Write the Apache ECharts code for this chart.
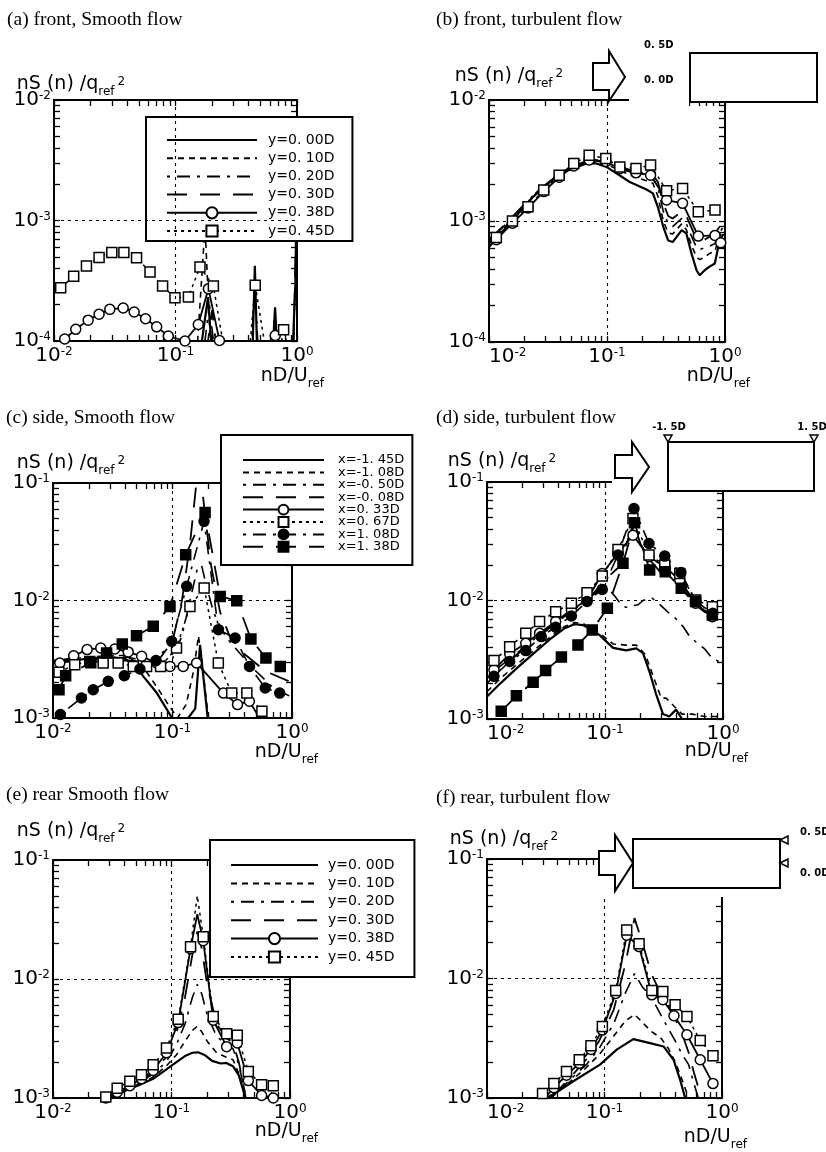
<!DOCTYPE html>
<html><head><meta charset="utf-8">
<script src="https://cdn.jsdelivr.net/npm/echarts@6/dist/echarts.min.js"></script>
<style>html,body{margin:0;padding:0;background:#fff}#c{width:826px;height:1152px}</style>
</head><body><div id="c"></div>
<script>
// ---------------- DATA ----------------
const namesY = ['y=0. 00D','y=0. 10D','y=0. 20D','y=0. 30D','y=0. 38D','y=0. 45D'];
const namesX = ['x=-1. 45D','x=-1. 08D','x=-0. 50D','x=-0. 08D','x=0. 33D','x=0. 67D','x=1. 08D','x=1. 38D'];
const titles = ['(a) front, Smooth flow','(b) front, turbulent flow','(c) side, Smooth flow','(d) side, turbulent flow','(e) rear Smooth flow','(f) rear, turbulent flow'];

// (a) front, smooth
const aF00 = [0.16,0.185,0.2,0.43,0.45,0.47,0.63,0.66,0.69,0.92,0.97,1.0];
const aS00 = [8e-5,2.3e-4,8e-5,8e-5,4.2e-4,8e-5,8e-5,1.9e-4,8e-5,8e-5,3e-4,3e-3];
const aF10 = [0.15,0.175,0.195,0.62,0.65,0.68];
const aS10 = [8e-5,9e-4,8e-5,8e-5,1.5e-4,8e-5];
const aF20 = [0.17,0.19,0.21,0.42,0.45,0.48];
const aS20 = [8e-5,2.0e-4,8e-5,8e-5,3.0e-4,8e-5];
const aF30 = [0.18,0.2,0.22,0.63,0.66,0.69,0.94,1.0];
const aS30 = [8e-5,1.8e-4,8e-5,8e-5,1.6e-4,8e-5,1e-4,2e-3];
const aF38 = [0.01225,0.0151,0.0191,0.0235,0.0288,0.0371,0.0457,0.0567,0.070,0.0873,0.1197,0.154,0.1866,0.230,0.29,0.37,0.46,0.57,0.662,0.82];
const aS38 = [1.04e-4,1.25e-4,1.49e-4,1.67e-4,1.83e-4,1.88e-4,1.74e-4,1.53e-4,1.31e-4,1.1e-4,1.0e-4,1.37e-4,2.72e-4,1.01e-4,7e-5,7e-5,7e-5,7e-5,1.11e-4,7e-5];
const aF45 = [0.01135,0.01452,0.0185,0.0235,0.0299,0.0376,0.0478,0.0617,0.0783,0.099,0.1277,0.159,0.205,0.26,0.33,0.4,0.453,0.57,0.70,0.776,0.9];
const aS45 = [2.77e-4,3.44e-4,4.2e-4,4.93e-4,5.42e-4,5.42e-4,4.9e-4,3.74e-4,2.86e-4,2.28e-4,2.32e-4,4.12e-4,2.86e-4,7e-5,7e-5,7e-5,2.9e-4,7e-5,7e-5,1.24e-4,7e-5];

// (b) front, turbulent
const bF = [0.01,0.014,0.0236,0.0398,0.067,0.08,0.099,0.156,0.216,0.245,0.27,0.3,0.33,0.36,0.43,0.47,0.52,0.575,0.61,0.67,0.74,0.82,0.9,0.97];
const bS00 = [6.1e-4,8.9e-4,1.58e-3,2.47e-3,2.99e-3,3.0e-3,2.8e-3,2.1e-3,1.82e-3,1.69e-3,1.3e-3,8.95e-4,6.9e-4,6.7e-4,8.4e-4,7.9e-4,5.4e-4,3.9e-4,3.56e-4,3.9e-4,4.2e-4,4.45e-4,6.9e-4,7.8e-4];
const bS10 = [6.5e-4,9.2e-4,1.6e-3,2.5e-3,3.05e-3,3.1e-3,2.95e-3,2.4e-3,2.15e-3,2.05e-3,1.6e-3,1.0e-3,8.0e-4,7.8e-4,9.5e-4,8.5e-4,6.3e-4,5.0e-4,4.8e-4,5.0e-4,5.4e-4,5.6e-4,7.5e-4,8.5e-4];
const bS20 = [6.8e-4,9.5e-4,1.62e-3,2.5e-3,3.1e-3,3.15e-3,3.0e-3,2.55e-3,2.3e-3,2.25e-3,1.9e-3,1.2e-3,9.5e-4,9.0e-4,1.05e-3,9.5e-4,7.5e-4,6.0e-4,5.8e-4,6.0e-4,6.2e-4,6.5e-4,8.0e-4,9.0e-4];
const bS30 = [7.0e-4,9.6e-4,1.63e-3,2.52e-3,3.1e-3,3.2e-3,3.05e-3,2.65e-3,2.45e-3,2.4e-3,2.1e-3,1.4e-3,1.1e-3,1.05e-3,1.2e-3,1.1e-3,8.8e-4,7.0e-4,6.8e-4,7.0e-4,7.4e-4,7.8e-4,9.0e-4,9.5e-4];
const bF38 = [0.01154,0.0158,0.0214,0.0291,0.0393,0.0523,0.0706,0.0977,0.1285,0.176,0.234,0.32,0.437,0.594,0.823,0.92];
const bS38 = [7.0e-4,9.6e-4,1.28e-3,1.75e-3,2.3e-3,2.85e-3,3.2e-3,3.1e-3,2.7e-3,2.5e-3,2.39e-3,1.49e-3,1.4e-3,7.5e-4,7.6e-4,6.6e-4];
const bF45 = [0.01154,0.0158,0.0214,0.0291,0.0393,0.0523,0.0706,0.0977,0.1285,0.176,0.234,0.32,0.437,0.594,0.823];
const bS45 = [7.3e-4,1.0e-3,1.31e-3,1.8e-3,2.39e-3,2.99e-3,3.5e-3,3.29e-3,2.8e-3,2.72e-3,2.9e-3,1.78e-3,1.86e-3,1.19e-3,1.23e-3];

// (c) side, smooth
const cFm145 = [0.01,0.015,0.02,0.03,0.04,0.05,0.057,0.074,0.098,0.11,0.13,0.155,0.17,0.197,0.22];
const cSm145 = [3.0e-3,3.1e-3,3.2e-3,3.3e-3,3.2e-3,2.7e-3,2.26e-3,1.63e-3,1.02e-3,9e-4,9.5e-4,1.2e-3,4.2e-3,1.0e-3,7e-4];
const cFm108 = [0.01,0.02,0.03,0.04,0.05,0.06,0.075,0.09,0.11,0.13,0.15,0.165,0.18,0.2];
const cSm108 = [3.1e-3,3.3e-3,3.4e-3,3.4e-3,3.0e-3,2.5e-3,1.8e-3,1.35e-3,1.0e-3,1.3e-3,2.5e-3,5e-3,2.5e-3,1.0e-3];
const cFm050 = [0.01,0.02,0.04,0.06,0.08,0.1,0.12,0.14,0.16,0.175,0.19,0.22,0.26,0.3,0.4,0.5,0.7,1.0];
const cSm050 = [3.0e-3,3.2e-3,3.3e-3,3.1e-3,3.0e-3,3.2e-3,5e-3,1.0e-2,1.8e-2,2.0e-2,1.4e-2,8e-3,5.5e-3,4.5e-3,3.2e-3,2.5e-3,1.8e-3,1.5e-3];
const cFm008 = [0.01,0.02,0.04,0.06,0.08,0.1,0.12,0.14,0.16,0.17,0.185,0.21,0.25,0.3,0.4,0.6,1.0];
const cSm008 = [3.0e-3,3.0e-3,3.1e-3,3.0e-3,3.3e-3,4.5e-3,1.0e-2,3e-2,1.1e-1,1.3e-1,6e-2,2.0e-2,8e-3,5e-3,3.5e-3,2.5e-3,2e-3];
const cF033 = [0.0114,0.0149,0.0193,0.0251,0.0329,0.0426,0.0552,0.0739,0.0953,0.123,0.159,0.267,0.35,0.44,0.57];
const cS033 = [2.94e-3,3.39e-3,3.82e-3,3.94e-3,3.87e-3,3.65e-3,3.35e-3,2.94e-3,2.75e-3,2.75e-3,2.94e-3,1.63e-3,1.3e-3,1.39e-3,9e-4];
const cF067 = [0.01122,0.0152,0.0203,0.0263,0.0351,0.047,0.0607,0.0795,0.108,0.14,0.184,0.2418,0.313,0.419,0.56];
const cS067 = [2.45e-3,2.84e-3,3.03e-3,2.94e-3,2.94e-3,2.75e-3,2.75e-3,2.75e-3,3.94e-3,8.9e-3,1.28e-2,2.94e-3,1.63e-3,1.63e-3,1.14e-3];
const cF108 = [0.01153,0.0173,0.0217,0.029,0.0395,0.0534,0.0727,0.0985,0.1315,0.1837,0.2425,0.334,0.441,0.597,0.789];
const cS108 = [1.07e-3,1.48e-3,1.74e-3,2.05e-3,2.29e-3,2.61e-3,3.08e-3,4.49e-3,1.32e-2,4.72e-2,5.65e-3,4.8e-3,2.75e-3,1.8e-3,1.63e-3];
const cF138 = [0.01122,0.01276,0.0207,0.0281,0.038,0.050,0.069,0.0953,0.129,0.1874,0.2505,0.345,0.453,0.605,0.798];
const cS138 = [1.74e-3,2.29e-3,2.95e-3,3.57e-3,4.27e-3,5.02e-3,6.03e-3,8.9e-3,2.45e-2,5.62e-2,1.08e-2,9.97e-3,4.7e-3,3.24e-3,2.75e-3];

// (d) side, turbulent
const dFm145 = [0.01,0.013,0.018,0.025,0.035,0.045,0.055,0.065,0.079,0.09,0.117,0.151,0.184,0.21,0.24,0.27,0.31,0.35,0.4,0.45,0.5];
const dSm145 = [1.55e-3,2.0e-3,2.7e-3,3.6e-3,4.8e-3,5.8e-3,6.3e-3,6.2e-3,5.6e-3,5.1e-3,3.98e-3,3.8e-3,3.95e-3,3.6e-3,2.45e-3,1.64e-3,1.1e-3,1.05e-3,1.2e-3,1.0e-3,8e-4];
const dFm108 = [0.01,0.013,0.018,0.025,0.035,0.045,0.055,0.065,0.079,0.09,0.117,0.151,0.184,0.22,0.26,0.3,0.33,0.38,0.45,0.55,0.7,0.9,1.0];
const dSm108 = [1.7e-3,2.2e-3,2.9e-3,3.8e-3,5.0e-3,6.0e-3,6.5e-3,6.4e-3,5.8e-3,5.3e-3,4.3e-3,4.2e-3,4.2e-3,3.5e-3,2.2e-3,1.5e-3,1.5e-3,1.3e-3,1.1e-3,1.1e-3,1.05e-3,1.05e-3,9e-4];
const dFm050 = [0.01,0.013,0.018,0.025,0.035,0.045,0.06,0.08,0.1,0.12,0.14,0.155,0.17,0.19,0.21,0.25,0.3,0.35,0.4,0.46,0.52,0.6,0.7,0.8,0.95];
const dSm050 = [2.2e-3,2.8e-3,3.6e-3,4.7e-3,6.2e-3,7.5e-3,9.2e-3,1.12e-2,1.35e-2,1.1e-2,9.0e-3,8.7e-3,9.0e-3,9.2e-3,1.0e-2,1.05e-2,9.0e-3,7.8e-3,7e-3,6e-3,5e-3,4.4e-3,3.9e-3,3.3e-3,3.0e-3];
const dFm008 = [0.01,0.013,0.018,0.025,0.035,0.045,0.06,0.08,0.1,0.13,0.16,0.175,0.2,0.24,0.3,0.4,0.5,0.6,0.7,0.85,1.0];
const dSm008 = [2.0e-3,2.6e-3,3.5e-3,4.6e-3,6.0e-3,7.3e-3,9.0e-3,1.15e-2,1.5e-2,1.9e-2,3.5e-2,4.5e-2,3.0e-2,2.2e-2,1.7e-2,1.4e-2,1.1e-2,9e-3,8e-3,7.3e-3,6.8e-3];
const dF033 = [0.01146,0.01556,0.0213,0.0279,0.0382,0.0519,0.0704,0.0948,0.1288,0.1726,0.236,0.321,0.43,0.586,0.812];
const dS033 = [2.6e-3,3.55e-3,4.36e-3,5.3e-3,6.64e-3,8.3e-3,1.01e-2,1.69e-2,2.5e-2,3.56e-2,2.34e-2,1.93e-2,1.49e-2,9.5e-3,7.3e-3];
const dF067 = [0.01146,0.01556,0.0213,0.0279,0.0382,0.0519,0.0704,0.0948,0.1288,0.1726,0.236,0.321,0.43,0.586,0.812];
const dS067 = [3.12e-3,4.08e-3,5.29e-3,6.64e-3,8.05e-3,9.46e-3,1.16e-2,1.61e-2,2.7e-2,4.91e-2,2.42e-2,1.99e-2,1.69e-2,1.01e-2,8.87e-3];
const dF108 = [0.01146,0.01556,0.0213,0.0288,0.0382,0.0519,0.0704,0.0948,0.1288,0.176,0.236,0.321,0.44,0.59,0.82];
const dS108 = [2.29e-3,3.06e-3,3.78e-3,4.96e-3,5.95e-3,7.4e-3,9.8e-3,1.24e-2,2.42e-2,5.97e-2,3.03e-2,2.37e-2,1.72e-2,9.8e-3,7.8e-3];
const dF138 = [0.0132,0.01774,0.0246,0.0314,0.0427,0.059,0.078,0.1047,0.142,0.178,0.239,0.324,0.443,0.586,0.812];
const dS138 = [1.16e-3,1.57e-3,2.04e-3,2.57e-3,3.33e-3,4.22e-3,5.65e-3,8.6e-3,2.06e-2,4.52e-2,1.81e-2,1.75e-2,1.27e-2,9.8e-3,7.55e-3];

// (e) rear, smooth
const eF00 = [0.025,0.035,0.054,0.07,0.09,0.11,0.13,0.15,0.168,0.19,0.22,0.26,0.29,0.33,0.37,0.41,0.44];
const eS00 = [9.5e-4,1.08e-3,1.29e-3,1.45e-3,1.73e-3,2.0e-3,2.25e-3,2.4e-3,2.42e-3,2.3e-3,2.05e-3,1.95e-3,1.97e-3,1.85e-3,1.55e-3,1.1e-3,8e-4];
const eF = [0.03,0.05,0.07,0.09,0.11,0.13,0.15,0.165,0.18,0.2,0.24,0.29,0.33,0.37,0.41,0.44];
const eS10 = [1.0e-3,1.25e-3,1.5e-3,1.85e-3,2.3e-3,3.0e-3,3.7e-3,4.0e-3,3.6e-3,3.0e-3,2.4e-3,2.2e-3,2.1e-3,1.6e-3,1.1e-3,8e-4];
const eS20 = [1.0e-3,1.28e-3,1.6e-3,2.0e-3,2.8e-3,4.2e-3,7e-3,9e-3,7.5e-3,5e-3,3.3e-3,2.8e-3,2.6e-3,1.9e-3,1.2e-3,8e-4];
const eS30 = [1.0e-3,1.3e-3,1.65e-3,2.2e-3,3.5e-3,7e-3,1.6e-2,2.5e-2,1.8e-2,9e-3,4.2e-3,3.2e-3,2.9e-3,2.0e-3,1.2e-3,8e-4];
const eF38 = [0.0279,0.0348,0.0445,0.0558,0.07,0.0907,0.1139,0.1448,0.1853,0.225,0.292,0.359,0.445,0.576,0.723];
const eS38 = [1.0e-3,1.12e-3,1.27e-3,1.45e-3,1.7e-3,2.4e-3,4.3e-3,1.8e-2,2.1e-2,4.5e-3,2.7e-3,2.9e-3,1.4e-3,1.05e-3,1.0e-3];
const eF38Pk = [0.165];
const eS38Pk = [3.5e-2];
const eF45 = [0.0279,0.0348,0.0445,0.0558,0.07,0.0907,0.1139,0.1448,0.1853,0.225,0.292,0.359,0.445,0.576,0.723];
const eS45 = [1.02e-3,1.21e-3,1.38e-3,1.57e-3,1.9e-3,2.63e-3,4.6e-3,1.87e-2,2.27e-2,4.84e-3,3.47e-3,3.36e-3,1.67e-3,1.29e-3,1.27e-3];
const eF45Pk = [0.165];
const eS45Pk = [5.0e-2];

// (f) rear, turbulent
const fF00 = [0.0321,0.04,0.0542,0.0916,0.127,0.176,0.244,0.318,0.387,0.44,0.486,0.52];
const fS00 = [1.0e-3,1.13e-3,1.38e-3,1.9e-3,2.54e-3,3.11e-3,2.88e-3,2.7e-3,2.09e-3,1.42e-3,1.0e-3,8e-4];
const fF = [0.035,0.05,0.07,0.09,0.12,0.15,0.18,0.21,0.25,0.3,0.35,0.4,0.46,0.52,0.58,0.65];
const fS10 = [1.0e-3,1.35e-3,1.8e-3,2.3e-3,3.3e-3,4.4e-3,5.0e-3,4.3e-3,3.6e-3,3.2e-3,2.6e-3,2.0e-3,1.4e-3,1.0e-3,8e-4,6e-4];
const fS20 = [1.0e-3,1.4e-3,1.9e-3,2.6e-3,4.2e-3,7.5e-3,1.1e-2,8.5e-3,7.0e-3,5.0e-3,3.8e-3,3.0e-3,2.3e-3,1.9e-3,1.3e-3,9e-4];
const fS30 = [1.0e-3,1.45e-3,2.1e-3,3.0e-3,5.5e-3,1.3e-2,3.2e-2,2.0e-2,1.1e-2,7.5e-3,6.0e-3,4.6e-3,3.4e-3,2.4e-3,1.6e-3,1.1e-3];
const fF38 = [0.0297,0.0371,0.0475,0.061,0.0767,0.0959,0.1245,0.1545,0.1969,0.2528,0.3137,0.39,0.503,0.653,0.838];
const fS38 = [9.5e-4,1.22e-3,1.55e-3,1.95e-3,2.55e-3,3.7e-3,7.5e-3,2.3e-2,1.85e-2,7.3e-3,6.64e-3,4.88e-3,3.38e-3,2.09e-3,1.32e-3];
const fF45 = [0.0297,0.0371,0.0475,0.061,0.0767,0.0959,0.1245,0.1545,0.1969,0.2528,0.3137,0.399,0.503,0.653,0.838];
const fS45 = [1.09e-3,1.32e-3,1.67e-3,2.09e-3,2.74e-3,3.97e-3,7.94e-3,2.55e-2,1.95e-2,7.94e-3,7.79e-3,6.02e-3,4.81e-3,3.03e-3,2.26e-3];

// ---------------- BUILD ----------------
const FONT = "'DejaVu Sans',sans-serif";
const L = Math.log10;
function pts(f, s) { return f.map((v, i) => [L(v), L(s[i])]); }
function merge(f1, s1, f2, s2) {
  const a = f1.map((v, i) => [v, s1[i]]).concat(f2.map((v, i) => [v, s2[i]]));
  a.sort((p, q) => p[0] - q[0]);
  return [a.map(p => p[0]), a.map(p => p[1])];
}
function ticks(lo, hi) { const t = []; for (let d = lo; d < hi; d++) for (let k = 1; k < 10; k++) t.push(d + L(k)); t.push(hi); return t; }

const STY = {
  solid: { type: 'solid', width: 2.2 },
  msolid: { type: 'solid', width: 1.8 },
  dash: { type: [6, 5], width: 1.6 },
  dashdot: { type: [3, 7, 13, 7], width: 1.6 },
  longdash: { type: [20, 13], width: 1.8 },
  dot: { type: [3, 4], width: 1.5 }
};
const SYM = {
  oc: { symbol: 'circle', fill: '#fff', size: 10 },
  os: { symbol: 'rect', fill: '#fff', size: 10 },
  fc: { symbol: 'circle', fill: '#000', size: 10 },
  fs: { symbol: 'rect', fill: '#000', size: 10 }
};

const PANELS = [
  { grid: { left: 54, top: 100, width: 243, height: 241 }, y: [-4, -2], yGap: 5, yPad: 34, xGap: 27, xPad: 27, alignMin: false },
  { grid: { left: 489, top: 100, width: 236, height: 242 }, y: [-4, -2], yGap: 13, yPad: 40, xGap: 25, xPad: 26, alignMin: true },
  { grid: { left: 53, top: 483, width: 239, height: 235 }, y: [-3, -1], yGap: 9, yPad: 36, xGap: 26, xPad: 26, alignMin: false },
  { grid: { left: 487, top: 482, width: 236, height: 237 }, y: [-3, -1], yGap: 10, yPad: 30, xGap: 25, xPad: 24, alignMin: true },
  { grid: { left: 53, top: 860, width: 237, height: 238 }, y: [-3, -1], yGap: 18, yPad: 36, xGap: 28, xPad: 25, alignMin: false },
  { grid: { left: 487, top: 859, width: 235, height: 239 }, y: [-3, -1], yGap: 9, yPad: 34, xGap: 25, xPad: 31, alignMin: true }
];
const TITLEPOS = [[7, 10], [436, 10], [6, 408], [436, 408], [6, 785], [436, 788]];

const RT = {
  b: { fontSize: 20, lineHeight: 20, fontFamily: FONT, color: '#000' },
  s: { fontSize: 12, lineHeight: 12, fontFamily: FONT, color: '#000', padding: [0, 0, 8, 0] }
};
const RN = {
  b: { fontSize: 19, lineHeight: 19, fontFamily: FONT, color: '#000', padding: [2, 0, 5, 0] },
  sub: { fontSize: 12, lineHeight: 12, fontFamily: FONT, color: '#000', padding: [13, 0, 1, 0] },
  sup: { fontSize: 12, lineHeight: 12, fontFamily: FONT, color: '#000', padding: [3, 0, 11, 3] }
};
const fmt = v => '{b|10}{s|' + (Math.abs(v) < 1e-9 ? '0' : String(Math.round(v))) + '}';

const grids = [], xAxes = [], yAxes = [];
PANELS.forEach((c, p) => {
  grids.push(Object.assign({ containLabel: false, show: false }, c.grid));
  const XT = ticks(-2, 0), YT = ticks(c.y[0], c.y[1]);
  const aLine = { show: true, onZero: false, lineStyle: { color: '#000', width: 2 } };
  const tk = vals => ({ show: true, inside: true, length: 6, customValues: vals, lineStyle: { color: '#000', width: 1.3 } });
  const xl = { margin: 5, formatter: fmt, rich: RT, color: '#000' };
  if (c.alignMin) xl.alignMinLabel = 'left';
  xAxes.push({ type: 'value', gridIndex: p, position: 'bottom', min: -2, max: 0, interval: 1,
    axisLine: aLine, axisTick: tk(XT), axisLabel: xl, splitLine: { show: false },
    name: '{b|nD/U}{sub|ref}', nameLocation: 'end', nameGap: c.xGap, nameMoveOverlap: false,
    nameTextStyle: { align: 'right', verticalAlign: 'top', padding: [c.xPad, 0, 0, 0], rich: RN } });
  xAxes.push({ type: 'value', gridIndex: p, position: 'top', min: -2, max: 0, interval: 1,
    axisLine: aLine, axisTick: tk(XT), axisLabel: { show: false }, splitLine: { show: false } });
  yAxes.push({ type: 'value', gridIndex: p, position: 'left', min: c.y[0], max: c.y[1], interval: 1,
    axisLine: aLine, axisTick: tk(YT), axisLabel: { margin: 3, formatter: fmt, rich: RT, color: '#000' },
    splitLine: { show: false },
    name: '{b|nS (n) /q}{sub|ref}{sup|2}', nameLocation: 'end', nameGap: c.yGap, nameMoveOverlap: false,
    nameTextStyle: { align: 'center', verticalAlign: 'bottom', padding: [0, 0, 0, c.yPad], rich: RN } });
  yAxes.push({ type: 'value', gridIndex: p, position: 'right', min: c.y[0], max: c.y[1], interval: 1,
    axisLine: aLine, axisTick: tk(YT), axisLabel: { show: false }, splitLine: { show: false } });
});

function gridLines(p) {
  const c = PANELS[p];
  return { silent: true, symbol: ['none', 'none'], label: { show: false }, animation: false,
    lineStyle: { color: '#000', type: [3, 4], width: 1.1 },
    data: [{ xAxis: L(0.1) }, { yAxis: (c.y[0] + c.y[1]) / 2 }] };
}

const series = [];
function addLine(p, name, f, s, st, sym, withGrid) {
  const o = { type: 'line', name, xAxisIndex: 2 * p, yAxisIndex: 2 * p, data: pts(f, s),
    symbol: sym ? sym.symbol : 'none', symbolSize: sym ? sym.size : 0, showSymbol: false,
    lineStyle: { color: '#000', width: st.width, type: st.type },
    itemStyle: sym ? { color: sym.fill, borderColor: '#000', borderWidth: 1.5 } : { color: '#000' },
    silent: true, animation: false, clip: true, z: 2 };
  if (withGrid) o.markLine = gridLines(p);
  series.push(o);
}
function addMarks(p, name, f, s, sym) {
  series.push({ type: 'scatter', name, xAxisIndex: 2 * p, yAxisIndex: 2 * p, data: pts(f, s),
    symbol: sym.symbol, symbolSize: sym.size,
    itemStyle: { color: sym.fill, borderColor: '#000', borderWidth: 1.5, opacity: 1 },
    silent: true, animation: false, clip: true, z: 3 });
}

// (a)
addLine(0, namesY[0], aF00, aS00, STY.solid, null, true);
addLine(0, namesY[1], aF10, aS10, STY.dash);
addLine(0, namesY[2], aF20, aS20, STY.dashdot);
addLine(0, namesY[3], aF30, aS30, STY.longdash);
addLine(0, namesY[4], aF38, aS38, STY.msolid, SYM.oc);
addLine(0, namesY[5], aF45, aS45, STY.dot, SYM.os);
// (c)
addLine(2, namesX[0], cFm145, cSm145, STY.solid, null, true);
addLine(2, namesX[1], cFm108, cSm108, STY.dash);
addLine(2, namesX[2], cFm050, cSm050, STY.dashdot);
addLine(2, namesX[3], cFm008, cSm008, STY.longdash);
addLine(2, namesX[4], cF033, cS033, STY.msolid, SYM.oc);
addLine(2, namesX[5], cF067, cS067, STY.dot, SYM.os);
addLine(2, namesX[6], cF108, cS108, STY.dashdot, SYM.fc);
addLine(2, namesX[7], cF138, cS138, STY.longdash, SYM.fs);
// (b)
addLine(1, namesY[0], bF, bS00, STY.solid, null, true);
addLine(1, namesY[1], bF, bS10, STY.dash);
addLine(1, namesY[2], bF, bS20, STY.dashdot);
addLine(1, namesY[3], bF, bS30, STY.longdash);
addLine(1, namesY[4], bF38, bS38, STY.msolid, SYM.oc);
addLine(1, namesY[5], bF45, bS45, STY.dot, SYM.os);
// (d)
addLine(3, namesX[0], dFm145, dSm145, STY.solid, null, true);
addLine(3, namesX[1], dFm108, dSm108, STY.dash);
addLine(3, namesX[2], dFm050, dSm050, STY.dashdot);
addLine(3, namesX[3], dFm008, dSm008, STY.longdash);
addLine(3, namesX[4], dF033, dS033, STY.msolid, SYM.oc);
addLine(3, namesX[5], dF067, dS067, STY.dot, SYM.os);
addLine(3, namesX[6], dF108, dS108, STY.dashdot, SYM.fc);
addLine(3, namesX[7], dF138, dS138, STY.longdash, SYM.fs);
// (e)
addLine(4, namesY[0], eF00, eS00, STY.solid, null, true);
addLine(4, namesY[1], eF, eS10, STY.dash);
addLine(4, namesY[2], eF, eS20, STY.dashdot);
addLine(4, namesY[3], eF, eS30, STY.longdash);
const e38 = merge(eF38, eS38, eF38Pk, eS38Pk);
const e45 = merge(eF45, eS45, eF45Pk, eS45Pk);
addLine(4, namesY[4], e38[0], e38[1], STY.msolid, SYM.oc);
addLine(4, namesY[5], e45[0], e45[1], STY.dot, SYM.os);
// (f)
addLine(5, namesY[0], fF00, fS00, STY.solid, null, true);
addLine(5, namesY[1], fF, fS10, STY.dash);
addLine(5, namesY[2], fF, fS20, STY.dashdot);
addLine(5, namesY[3], fF, fS30, STY.longdash);
addLine(5, namesY[4], fF38, fS38, STY.msolid, SYM.oc);
addLine(5, namesY[5], fF45, fS45, STY.dot, SYM.os);
// markers on top
addMarks(0, namesY[4], aF38, aS38, SYM.oc); addMarks(0, namesY[5], aF45, aS45, SYM.os);
addMarks(1, namesY[4], bF38, bS38, SYM.oc); addMarks(1, namesY[5], bF45, bS45, SYM.os);
addMarks(2, namesX[4], cF033, cS033, SYM.oc); addMarks(2, namesX[5], cF067, cS067, SYM.os);
addMarks(2, namesX[6], cF108, cS108, SYM.fc); addMarks(2, namesX[7], cF138, cS138, SYM.fs);
addMarks(3, namesX[4], dF033, dS033, SYM.oc); addMarks(3, namesX[5], dF067, dS067, SYM.os);
addMarks(3, namesX[6], dF108, dS108, SYM.fc); addMarks(3, namesX[7], dF138, dS138, SYM.fs);
addMarks(4, namesY[4], eF38, eS38, SYM.oc); addMarks(4, namesY[5], eF45, eS45, SYM.os);
addMarks(5, namesY[4], fF38, fS38, SYM.oc); addMarks(5, namesY[5], fF45, fS45, SYM.os);

// legend entries: plain lines get no symbol in their icon
function legendData(names, nMarked) {
  return names.map((n, i) => i < names.length - nMarked
    ? { name: n, itemStyle: { opacity: 0, borderWidth: 0, color: 'rgba(0,0,0,0)' } }
    : { name: n });
}
function legend(names, nMarked, o) {
  return { data: legendData(names, nMarked), orient: 'vertical', left: o.left, top: o.top, itemWidth: o.iw, itemHeight: o.ih,
    itemGap: o.gap, padding: o.pad, backgroundColor: '#fff', borderColor: '#000', borderWidth: 2,
    borderRadius: 0, selectedMode: false, z: 5,
    textStyle: { fontFamily: FONT, fontSize: o.fs, color: '#000', width: o.tw, padding: [0, 0, 0, o.tp] } };
}

const T = (s, x, y, al) => ({ type: 'text', x: x, y: y, z: 100, silent: true,
  style: { text: s, font: 'bold 10px ' + FONT, fill: '#000', textAlign: al || 'left', textVerticalAlign: 'middle' } });
const graphic = [
  // (b) decoration
  { type: 'rect', shape: { x: 629, y: 93, width: 60, height: 17 }, style: { fill: '#fff' }, z: 90, silent: true },
  { type: 'polygon', shape: { points: [[593, 63], [609, 63], [609, 51], [625, 77], [609, 101], [609, 90], [593, 90]] }, style: { fill: '#fff', stroke: '#000', lineWidth: 2 }, z: 100, silent: true },
  { type: 'rect', shape: { x: 690, y: 53, width: 127, height: 49 }, style: { fill: '#fff', stroke: '#000', lineWidth: 2 }, z: 100, silent: true },
  T('0. 5D', 644, 45), T('0. 0D', 644, 80),
  // (d) decoration
  { type: 'rect', shape: { x: 612, y: 475, width: 57, height: 18 }, style: { fill: '#fff' }, z: 90, silent: true },
  { type: 'polygon', shape: { points: [[615, 455], [632, 455], [632, 442], [649, 467], [632, 492], [632, 478], [615, 478]] }, style: { fill: '#fff', stroke: '#000', lineWidth: 2 }, z: 100, silent: true },
  { type: 'rect', shape: { x: 668, y: 442, width: 146, height: 49 }, style: { fill: '#fff', stroke: '#000', lineWidth: 2 }, z: 100, silent: true },
  { type: 'polygon', shape: { points: [[664, 435], [672, 435], [668, 442]] }, style: { fill: '#fff', stroke: '#000', lineWidth: 1.5 }, z: 101, silent: true },
  { type: 'polygon', shape: { points: [[810, 435], [818, 435], [814, 442]] }, style: { fill: '#fff', stroke: '#000', lineWidth: 1.5 }, z: 101, silent: true },
  T('-1. 5D', 669, 427, 'center'), T('1. 5D', 812, 427, 'center'),
  // (f) decoration
  { type: 'rect', shape: { x: 598, y: 853, width: 136, height: 44 }, style: { fill: '#fff' }, z: 90, silent: true },
  { type: 'polygon', shape: { points: [[599, 851], [615, 851], [615, 835], [633, 863], [615, 891], [615, 875], [599, 875]] }, style: { fill: '#fff', stroke: '#000', lineWidth: 2 }, z: 100, silent: true },
  { type: 'rect', shape: { x: 633, y: 839, width: 147, height: 49 }, style: { fill: '#fff', stroke: '#000', lineWidth: 2 }, z: 100, silent: true },
  { type: 'polygon', shape: { points: [[780, 840], [788, 836], [788, 844]] }, style: { fill: '#fff', stroke: '#000', lineWidth: 1.5 }, z: 101, silent: true },
  { type: 'polygon', shape: { points: [[780, 863], [788, 859], [788, 867]] }, style: { fill: '#fff', stroke: '#000', lineWidth: 1.5 }, z: 101, silent: true },
  T('0. 5D', 800, 832), T('0. 0D', 800, 873)
];

const option = {
  animation: false,
  backgroundColor: '#fff',
  textStyle: { fontFamily: FONT, color: '#000' },
  title: titles.map((t, i) => ({ text: t, left: TITLEPOS[i][0], top: TITLEPOS[i][1], padding: 0,
    textStyle: { fontFamily: "'Liberation Serif','Times New Roman',serif", fontSize: 19.5, fontWeight: 'normal', color: '#000' } })),
  legend: [
    legend(namesY, 2, { left: 146, top: 117, iw: 90, ih: 14, gap: 4.2, pad: [16, 18, 3, 20], fs: 14, tw: 60, tp: 6 }),
    legend(namesX, 4, { left: 221, top: 435, iw: 81, ih: 12.4, gap: -0.6, pad: [18.5, 8, 11.7, 21], fs: 13, tw: 68, tp: 9 }),
    legend(namesY, 2, { left: 210, top: 840, iw: 87, ih: 14, gap: 4.4, pad: [18, 20, 13, 20], fs: 14, tw: 65, tp: 5 })
  ],
  grid: grids, xAxis: xAxes, yAxis: yAxes, series: series, graphic: graphic
};
const chart = echarts.init(document.getElementById('c'), null, { renderer: 'canvas' });
chart.setOption(option);
</script></body></html>
